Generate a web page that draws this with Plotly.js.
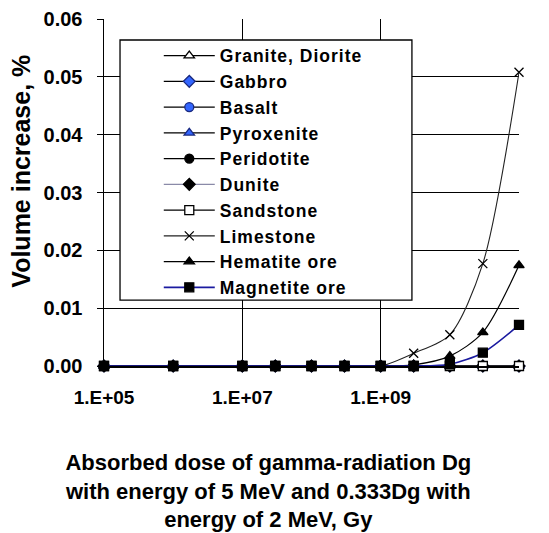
<!DOCTYPE html>
<html>
<head>
<meta charset="utf-8">
<script src="https://cdn.plot.ly/plotly-3.0.1.min.js"></script>
<style>
html,body{margin:0;padding:0;background:#fff;}
.legendtext{letter-spacing:1px;}
</style>
</head>
<body>
<div id="chart" style="width:549px;height:533px;"></div>
<script>
// Absorbed dose (Gy)
const dose = [1e5, 1e6, 1e7, 3e7, 1e8, 3e8, 1e9, 3e9, 1e10, 3e10, 1e11];
// Volume increase, %
const granite    = [0, 0, 0, 0, 0, 0, 0, 0, 0, 0, 0];
const gabbro     = [0, 0, 0, 0, 0, 0, 0, 0, 0, 0, 0];
const basalt     = [0, 0, 0, 0, 0, 0, 0, 0, 0, 0, 0];
const pyroxenite = [0, 0, 0, 0, 0, 0, 0, 0, 0, 0, 0];
const peridotite = [0, 0, 0, 0, 0, 0, 0, 0, 0, 0, 0];
const dunite     = [0, 0, 0, 0, 0, 0, 0, 0, 0, 0, 0];
const sandstone  = [0, 0, 0, 0, 0, 0, 0, 0, 0, 0, 0];
const limestone  = [0, 0, 0, 0, 0, 0, 0, 0.0022, 0.0054, 0.0177, 0.0508];
const hematite   = [0, 0, 0, 0, 0, 0, 0, 0.0002, 0.0017, 0.0058, 0.0174];
const magnetite  = [0, 0, 0, 0, 0, 0, 0, 0, 0.0003, 0.0023, 0.0071];

const xTickVals = [1e5, 1e7, 1e9, 1e11];
const xTickText = ['1.E+05', '1.E+07', '1.E+09', '1.E+11'];

const names = ['Granite, Diorite', 'Gabbro', 'Basalt', 'Pyroxenite', 'Peridotite',
               'Dunite', 'Sandstone', 'Limestone', 'Hematite ore', 'Magnetite ore'];
const values = [granite, gabbro, basalt, pyroxenite, peridotite, dunite, sandstone,
                limestone, hematite, magnetite];
const styles = [
  {symbol: 'triangle-up', color: '#ffffff', lc: '#000', line: '#000', w: 1.2},
  {symbol: 'diamond', color: '#3366ff', lc: '#1a2a80', line: '#000', w: 1.2},
  {symbol: 'circle', color: '#3366ff', lc: '#1a2a80', line: '#000', w: 1.2},
  {symbol: 'triangle-up', color: '#3366ff', lc: '#1a2a80', line: '#000', w: 1.2},
  {symbol: 'circle', color: '#000', lc: '#000', line: '#000', w: 1.2},
  {symbol: 'diamond', color: '#000', lc: '#000', line: '#8a8aa8', w: 1.2},
  {symbol: 'square', color: '#ffffff', lc: '#000', line: '#000', w: 1.2},
  {symbol: 'x-thin-open', color: '#000', lc: '#000', line: '#222', w: 1.1},
  {symbol: 'triangle-up', color: '#000', lc: '#000', line: '#000', w: 1.2},
  {symbol: 'square', color: '#000', lc: '#000', line: '#1a1aa0', w: 1.6}
];

const traces = names.map((n, i) => ({
  type: 'scatter',
  mode: 'lines+markers',
  name: n,
  x: dose,
  y: values[i],
  line: {color: styles[i].line, width: styles[i].w, shape: 'spline', smoothing: 0.8},
  marker: {symbol: styles[i].symbol, size: 9, color: styles[i].color,
           line: {color: styles[i].lc, width: 1.3}},
  cliponaxis: false
}));

const fontFam = 'Liberation Sans, Arial, sans-serif';

const layout = {
  width: 549, height: 533,
  margin: {l: 104, r: 30, t: 19, b: 167},
  paper_bgcolor: '#fff', plot_bgcolor: '#fff',
  font: {family: fontFam, color: '#000'},
  showlegend: true,
  xaxis: {
    type: 'log', range: [5, 11],
    tickvals: xTickVals, ticktext: xTickText,
    showgrid: true, gridcolor: '#000', gridwidth: 1,
    showline: true, linecolor: '#000', linewidth: 1.5,
    ticks: '', ticklabelstandoff: 14,
    tickfont: {size: 19, family: fontFam, weight: 'bold', color: '#000'},
    zeroline: false
  },
  yaxis: {
    range: [0, 0.06], dtick: 0.01, tickformat: '.2f',
    showgrid: true, gridcolor: '#000', gridwidth: 1,
    showline: true, linecolor: '#000', linewidth: 1.5,
    ticks: 'outside', ticklen: 6, tickcolor: '#000', ticklabelstandoff: 10,
    tickfont: {size: 20, family: fontFam, weight: 'bold', color: '#000'},
    zeroline: false
  },
  legend: {
    x: 0.132, y: 0.946, xanchor: 'left', yanchor: 'top',
    bgcolor: 'rgba(0,0,0,0)', borderwidth: 0,
    itemwidth: 51,
    font: {size: 17.5, family: fontFam, weight: 'bold', color: '#000'},
    tracegroupgap: 0
  },
  shapes: [{
    type: 'rect', xref: 'paper', yref: 'paper', layer: 'above',
    x0: 0.0386, x1: 0.742, y0: 0.19, y1: 0.9395,
    line: {color: '#000', width: 1.3}, fillcolor: '#fff'
  }],
  annotations: [
    {
      xref: 'paper', yref: 'paper', x: -0.2, y: 0.56, xanchor: 'center', yanchor: 'middle',
      text: 'Volume increase, %', textangle: -90, showarrow: false,
      font: {size: 25, family: fontFam, weight: 'bold', color: '#000'}
    },
    {
      xref: 'paper', yref: 'paper', x: 0.395, y: -0.36, xanchor: 'center', yanchor: 'middle',
      text: 'Absorbed dose of gamma-radiation Dg<br>with energy of 5 MeV and 0.333Dg with<br>energy of 2 MeV, Gy',
      showarrow: false, align: 'center',
      font: {size: 22, family: fontFam, weight: 'bold', color: '#000'}
    }
  ]
};

Plotly.newPlot('chart', traces, layout, {displayModeBar: false, staticPlot: true});
</script>
</body>
</html>
